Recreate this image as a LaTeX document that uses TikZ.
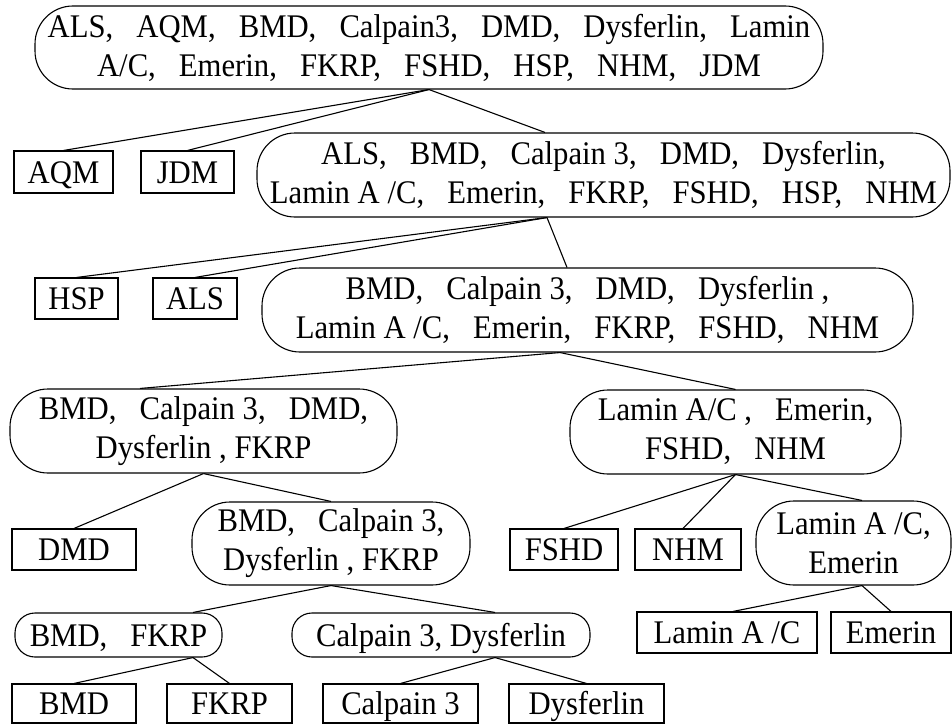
\documentclass[tikz,border=0pt]{standalone}
\usepackage{fontspec}
\setmainfont[FakeStretch=0.93]{Liberation Serif}
\newcommand{\cs}{,\hspace{0.7em}}
\begin{document}
\begin{tikzpicture}[x=1pt,y=-1pt,
  every node/.style={font=\fontsize{33}{39}\selectfont, inner sep=0pt, align=center},
  leaf/.style={draw, line width=1.1pt, rectangle, text height=25pt, text depth=3pt},
  oval/.style={draw, line width=1.1pt, rectangle, rounded corners=38pt},
  soval/.style={draw, line width=1.1pt, rectangle, rounded corners=20pt, text height=25pt, text depth=3pt},
  link/.style={line width=1.1pt}]
\useasboundingbox (0,0) rectangle (952,725);
\fill[white] (0,0) rectangle (952,725);
% level 0
\node[oval, minimum width=788pt, minimum height=83pt] (root) at (429,47.5)
  {ALS\cs AQM\cs BMD\cs Calpain3\cs DMD\cs Dysferlin\cs Lamin\\A/C\cs Emerin\cs FKRP\cs FSHD\cs HSP\cs NHM\cs JDM};
% level 1
\node[leaf, minimum width=99pt, minimum height=42pt] (aqm) at (63.5,172) {AQM};
\node[leaf, minimum width=93pt, minimum height=42pt] (jdm) at (187.5,172) {JDM};
\node[oval, minimum width=693pt, minimum height=84pt] (l2) at (603.5,175)
  {ALS\cs BMD\cs Calpain 3\cs DMD\cs Dysferlin\cs\\Lamin A /C\cs Emerin\cs FKRP\cs FSHD\cs HSP\cs NHM};
% level 2
\node[leaf, minimum width=83pt, minimum height=41pt] (hsp) at (76.5,298.5) {HSP};
\node[leaf, minimum width=84pt, minimum height=41pt] (als) at (195,298.5) {ALS};
\node[oval, minimum width=651pt, minimum height=84pt] (l3) at (587.5,310)
  {BMD\cs Calpain 3\cs DMD\cs Dysferlin ,\\Lamin A /C\cs Emerin\cs FKRP\cs FSHD\cs NHM};
% level 3
\node[oval, minimum width=387pt, minimum height=84pt] (l4a) at (203.5,431)
  {BMD\cs Calpain 3\cs DMD\cs\\Dysferlin , FKRP};
\node[oval, minimum width=331pt, minimum height=84pt] (l4b) at (735.5,432)
  {Lamin A/C ,\hspace{0.7em}Emerin\cs\\FSHD\cs NHM};
% level 4
\node[leaf, minimum width=124pt, minimum height=41pt] (dmd) at (74,549.5) {DMD};
\node[oval, minimum width=278pt, minimum height=83pt] (l5) at (331,543.5)
  {BMD\cs Calpain 3,\\Dysferlin , FKRP};
\node[leaf, minimum width=108pt, minimum height=41pt] (fshd) at (564,549.5) {FSHD};
\node[leaf, minimum width=106pt, minimum height=41pt] (nhm) at (688,549.5) {NHM};
\node[oval, minimum width=195pt, minimum height=84pt] (l5b) at (853.5,543)
  {Lamin A /C,\\Emerin};
% level 5
\node[soval, minimum width=207pt, minimum height=44pt] (l6a) at (118.5,635) {BMD\cs FKRP};
\node[soval, minimum width=298pt, minimum height=44pt] (l6b) at (441,635) {Calpain 3, Dysferlin};
\node[leaf, minimum width=180pt, minimum height=41pt] (lac) at (727,632.5) {Lamin A /C};
\node[leaf, minimum width=120pt, minimum height=41pt] (eme) at (891,632.5) {Emerin};
% level 6
\node[leaf, minimum width=124pt, minimum height=39pt] (bmd) at (74,703.5) {BMD};
\node[leaf, minimum width=125pt, minimum height=39pt] (fkrp) at (229.5,703.5) {FKRP};
\node[leaf, minimum width=155pt, minimum height=39pt] (calp) at (400.5,703.5) {Calpain 3};
\node[leaf, minimum width=155pt, minimum height=39pt] (dysf) at (586.5,703.5) {Dysferlin};
% connectors
\draw[link] (root.south) -- (aqm.north);
\draw[link] (root.south) -- (jdm.north);
\draw[link] (root.south) -- ([xshift=-58.5pt]l2.north);
\draw[link] ([xshift=-56.5pt]l2.south) -- (hsp.north);
\draw[link] ([xshift=-56.5pt]l2.south) -- (als.north);
\draw[link] ([xshift=-56.5pt]l2.south) -- ([xshift=-20.5pt]l3.north);
\draw[link] ([xshift=-27.5pt]l3.south) -- ([xshift=-63.5pt]l4a.north);
\draw[link] ([xshift=-27.5pt]l3.south) -- (l4b.north);
\draw[link] (l4a.south) -- (dmd.north);
\draw[link] (l4a.south) -- (l5.north);
\draw[link] (l5.south) -- ([xshift=74.5pt]l6a.north);
\draw[link] (l5.south) -- ([xshift=54pt]l6b.north);
\draw[link] ([xshift=74.5pt]l6a.south) -- (bmd.north);
\draw[link] ([xshift=74.5pt]l6a.south) -- (fkrp.north);
\draw[link] ([xshift=54pt]l6b.south) -- (calp.north);
\draw[link] ([xshift=54pt]l6b.south) -- (dysf.north);
\draw[link] (l4b.south) -- (fshd.north);
\draw[link] (l4b.south) -- ([xshift=-5pt]nhm.north);
\draw[link] (l4b.south) -- ([xshift=8.5pt]l5b.north);
\draw[link] ([xshift=8.5pt]l5b.south) -- ([xshift=6pt]lac.north);
\draw[link] ([xshift=8.5pt]l5b.south) -- (eme.north);
\end{tikzpicture}
\end{document}
